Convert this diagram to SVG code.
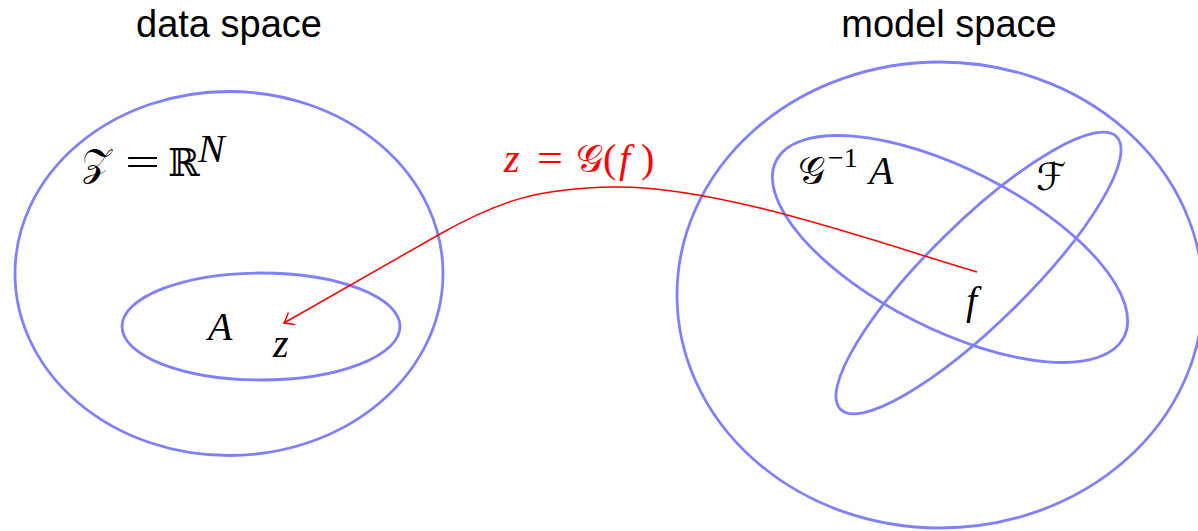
<svg xmlns="http://www.w3.org/2000/svg" width="1198" height="531" viewBox="0 0 1198 531">
<style>
.set{fill:none;stroke:#8080ff;stroke-width:2.8}
.title{font-family:"Liberation Sans",Arial,sans-serif;font-size:38px;fill:#000}
.m{font-family:"Liberation Serif","DejaVu Serif",serif;font-size:40px;font-style:italic;fill:#000}
.r{font-family:"Liberation Serif","DejaVu Serif",serif;font-size:40px;fill:#000}
.cal{font-family:"DejaVu Serif","DejaVu Sans","Noto Sans",serif;font-size:38px;fill:#000}
.sup{font-size:28px}
.red{fill:#ff0000}
.conn{fill:none;stroke:#ff0000;stroke-width:1.5}
</style>
<defs>
<marker id="ah" markerUnits="userSpaceOnUse" markerWidth="20" markerHeight="20" refX="0" refY="0" viewBox="-10 -10 20 20" orient="auto" overflow="visible">
<path d="M-9,-7 Q-2,-1 0,0 Q-2,1 -9,7" fill="none" stroke="#ff0000" stroke-width="1.5"/>
</marker>
</defs>
<rect width="1198" height="531" fill="#fff"/>
<g id="data-space">
<ellipse class="set" cx="229" cy="273.5" rx="214" ry="182"/>
<text class="title" x="229" y="37" text-anchor="middle">data space</text>
<text class="cal" x="82" y="176">𝒵</text>
<text class="r" x="125" y="176" textLength="35" lengthAdjust="spacingAndGlyphs">=</text>
<text class="cal" x="168" y="176">ℝ</text>
<text class="m" x="198" y="162" font-size="31">N</text>
</g>
<g id="set-A">
<ellipse class="set" cx="261" cy="326.5" rx="139" ry="53.5"/>
<text class="m" x="208" y="340">A</text>
<text class="m" x="273" y="357">z</text>
</g>
<g id="model-space">
<ellipse class="set" cx="940" cy="295" rx="263" ry="233"/>
<text class="title" x="949" y="37" text-anchor="middle">model space</text>
</g>
<g id="set-GinvA">
<ellipse class="set" cx="950" cy="249" rx="195" ry="80" transform="rotate(26.9 950 249)"/>
<text class="cal" x="798" y="184">𝒢</text>
<text class="r sup" x="828" y="167">−1</text>
<text class="m" x="869" y="184">A</text>
</g>
<g id="set-F">
<ellipse class="set" cx="978.5" cy="273" rx="194" ry="50" transform="rotate(-44.6 978.5 273)"/>
<text class="cal" x="1036" y="190">ℱ</text>
<text class="m" x="966" y="314">f</text>
</g>
<g id="connectors">
<path class="conn" d="M977,272 C870,240 720,186 614,187 C540,188 500,200 440,234 L284,323" marker-end="url(#ah)"/>
<g id="map-label">
<text class="m red" x="504" y="172">z</text>
<text class="r red" x="537" y="172" textLength="26" lengthAdjust="spacingAndGlyphs">=</text>
<text class="cal red" x="576" y="172">𝒢</text>
<text class="r red" x="603" y="172">(</text>
<text class="m red" x="619" y="172">f</text>
<text class="r red" x="641" y="172">)</text>
</g>
</g>
</svg>
